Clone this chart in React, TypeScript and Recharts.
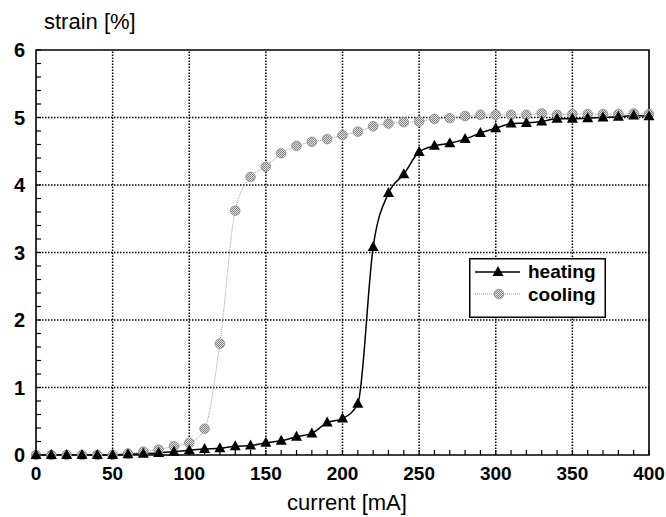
import { LineChart, Line, XAxis, YAxis, ReferenceLine, ReferenceArea } from "recharts";

// current [mA], one sample every 10 mA
const currents = [
  0, 10, 20, 30, 40, 50, 60, 70, 80, 90, 100, 110, 120, 130, 140, 150, 160, 170, 180, 190, 200,
  210, 220, 230, 240, 250, 260, 270, 280, 290, 300, 310, 320, 330, 340, 350, 360, 370, 380, 390, 400,
];

// strain [%]
const heating = [
  0, 0, 0, 0, 0, 0, 0.01, 0.02, 0.03, 0.05, 0.07, 0.09, 0.1, 0.13, 0.14, 0.18, 0.21, 0.27, 0.32, 0.48,
  0.54, 0.76, 3.08, 3.88, 4.16, 4.49, 4.58, 4.62, 4.68, 4.77, 4.84, 4.91, 4.92, 4.94, 4.98, 4.98, 4.99,
  5.0, 5.01, 5.03, 5.02,
];

const cooling = [
  0, 0, 0, 0, 0, 0, 0.02, 0.05, 0.08, 0.13, 0.18, 0.39, 1.65, 3.62, 4.12, 4.27, 4.47, 4.58, 4.64, 4.68,
  4.74, 4.79, 4.87, 4.91, 4.93, 4.94, 4.98, 4.99, 5.02, 5.04, 5.04, 5.04, 5.04, 5.06, 5.04, 5.05, 5.05,
  5.05, 5.05, 5.06, 5.05,
];

const xLabels = [0, 50, 100, 150, 200, 250, 300, 350, 400];
const yLabels = [0, 1, 2, 3, 4, 5, 6];

// minor tick positions (every 10 mA, every 0.2 %)
const xTicks = Array.from({ length: 41 }, (_, i) => i * 10);
const yTicks = Array.from({ length: 31 }, (_, i) => Math.round(i * 2) / 10);

const data = currents.map((c, i) => ({ current: c, heating: heating[i], cooling: cooling[i] }));

const FONT = "'Liberation Sans', Arial, Helvetica, sans-serif";

function XTick({ x, y, payload }: any) {
  const v = payload.value;
  return (
    <g>
      <line x1={x} x2={x} y1={y} y2={y - 5} stroke="#000" strokeWidth={1.2} />
      {xLabels.includes(v) && (
        <text x={x} y={y + 25} textAnchor="middle" fontFamily={FONT} fontWeight="bold" fontSize={19} fill="#000">
          {v}
        </text>
      )}
    </g>
  );
}

function YTick({ x, y, payload }: any) {
  const v = payload.value;
  return (
    <g>
      <line x1={x} x2={x + 5} y1={y} y2={y} stroke="#000" strokeWidth={1.2} />
      {yLabels.includes(v) && (
        <text x={x - 11} y={y} dy="0.36em" textAnchor="end" fontFamily={FONT} fontWeight="bold" fontSize={20} fill="#000">
          {v}
        </text>
      )}
    </g>
  );
}

function TriangleDot({ cx, cy, index }: any) {
  if (cx == null || cy == null) return null;
  return <polygon key={`h-${index}`} points={`${cx},${cy - 6} ${cx - 5.5},${cy + 4} ${cx + 5.5},${cy + 4}`} fill="#000" />;
}

function CircleDot({ cx, cy, index }: any) {
  if (cx == null || cy == null) return null;
  return <circle key={`c-${index}`} cx={cx} cy={cy} r={4.8} fill="url(#checker)" stroke="#8c8c8c" strokeWidth={0.8} />;
}

export default function App() {
  return (
    <div style={{ position: "absolute", left: 0, top: 0, width: 666, height: 517, background: "#fff" }}>
      <svg width={0} height={0} style={{ position: "absolute" }}>
        <defs>
          <pattern id="checker" width={2} height={2} patternUnits="userSpaceOnUse">
            <rect width={2} height={2} fill="#e4e4e4" />
            <rect width={1} height={1} fill="#7e7e7e" />
            <rect x={1} y={1} width={1} height={1} fill="#7e7e7e" />
          </pattern>
        </defs>
      </svg>

      <LineChart width={666} height={517} data={data} margin={{ top: 50, right: 17, left: 0, bottom: 0 }}>
        <XAxis
          dataKey="current"
          type="number"
          domain={[0, 400]}
          ticks={xTicks}
          interval={0}
          height={62}
          tickSize={0}
          tickMargin={0}
          tickLine={false}
          axisLine={false}
          tick={<XTick />}
        />
        <YAxis
          type="number"
          domain={[0, 6]}
          ticks={yTicks}
          interval={0}
          width={36}
          tickSize={0}
          tickMargin={0}
          tickLine={false}
          axisLine={false}
          tick={<YTick />}
        />
        {xLabels.slice(1, -1).map((v) => (
          <ReferenceLine key={`gx-${v}`} x={v} stroke="#000" strokeWidth={1.5} strokeDasharray="1.5 1.5" />
        ))}
        {yLabels.slice(1, -1).map((v) => (
          <ReferenceLine key={`gy-${v}`} y={v} stroke="#000" strokeWidth={1.5} strokeDasharray="1.5 1.5" />
        ))}
        <ReferenceArea x1={0} x2={400} y1={0} y2={6} fill="none" fillOpacity={0} stroke="#000" strokeWidth={1.6} />
        <Line
          dataKey="cooling"
          type="monotone"
          stroke="#9a9a9a"
          strokeWidth={1}
          strokeDasharray="1 1"
          dot={<CircleDot />}
          activeDot={false}
          isAnimationActive={false}
        />
        <Line
          dataKey="heating"
          type="monotone"
          stroke="#000"
          strokeWidth={1.5}
          dot={<TriangleDot />}
          activeDot={false}
          isAnimationActive={false}
        />
      </LineChart>

      <svg width={666} height={517} style={{ position: "absolute", left: 0, top: 0, pointerEvents: "none" }}>
        <text x={44} y={29} fontFamily={FONT} fontSize={22} fill="#000">
          strain [%]
        </text>
        <text x={347} y={510} textAnchor="middle" fontFamily={FONT} fontSize={22} fill="#000">
          current [mA]
        </text>
        <g transform="translate(469,258)">
          <rect x={0.75} y={0.75} width={135.5} height={58.5} fill="#fff" stroke="#000" strokeWidth={1.5} />
          <line x1={6} x2={51} y1={14} y2={14} stroke="#000" strokeWidth={1.5} />
          <polygon points="29,8 23.5,18 34.5,18" fill="#000" />
          <text x={59} y={20} fontFamily={FONT} fontWeight="bold" fontSize={19} fill="#000">
            heating
          </text>
          <line x1={6} x2={51} y1={36} y2={36} stroke="#9a9a9a" strokeWidth={1} strokeDasharray="1 1" />
          <circle cx={30} cy={36} r={4.8} fill="url(#checker)" stroke="#8c8c8c" strokeWidth={0.8} />
          <text x={59} y={43} fontFamily={FONT} fontWeight="bold" fontSize={19} fill="#000">
            cooling
          </text>
        </g>
      </svg>
    </div>
  );
}
